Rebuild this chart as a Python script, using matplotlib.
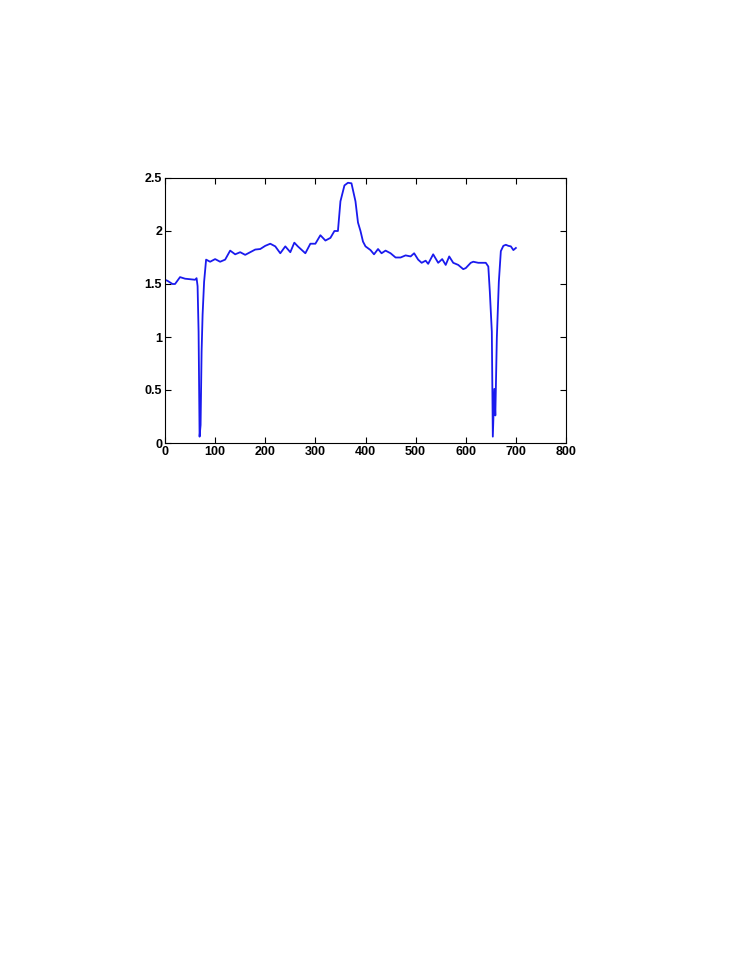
import matplotlib
matplotlib.use("Agg")
import matplotlib.pyplot as plt

# profile values
x = [0, 5, 15, 20, 30, 40, 50, 60, 63, 65, 67, 69, 71, 73, 75, 78, 82, 90, 100,
     110, 120, 130, 140, 150, 160, 170, 180, 190, 200, 210, 220, 230, 240, 250,
     258, 265, 280, 290, 300, 310, 320, 330, 338, 345, 350, 358, 365, 372, 380,
     385, 390, 395, 400, 410, 417, 425, 432, 440, 450, 460, 470, 480, 490, 497,
     505, 512, 520, 525, 535, 545, 553, 560, 567, 575, 585, 595, 600, 610, 615,
     625, 635, 640, 645, 648, 652, 654, 657, 659, 662, 666, 670, 675, 680, 685,
     690, 695, 700]
y = [1.54, 1.53, 1.50, 1.50, 1.565, 1.55, 1.545, 1.54, 1.555, 1.48, 1.05, 0.06,
     0.17, 0.86, 1.21, 1.52, 1.73, 1.71, 1.735, 1.71, 1.73, 1.815, 1.78, 1.80,
     1.775, 1.80, 1.825, 1.83, 1.86, 1.88, 1.855, 1.79, 1.855, 1.80, 1.89,
     1.855, 1.79, 1.88, 1.88, 1.96, 1.91, 1.935, 2.00, 2.00, 2.28, 2.43, 2.455,
     2.45, 2.28, 2.08, 2.00, 1.90, 1.855, 1.82, 1.78, 1.83, 1.79, 1.815, 1.79,
     1.75, 1.75, 1.77, 1.76, 1.79, 1.73, 1.70, 1.72, 1.69, 1.78, 1.70, 1.735,
     1.68, 1.76, 1.70, 1.68, 1.64, 1.65, 1.70, 1.71, 1.70, 1.70, 1.70, 1.665,
     1.43, 1.05, 0.06, 0.51, 0.26, 0.99, 1.52, 1.81, 1.86, 1.87, 1.86, 1.855,
     1.82, 1.84]

xticks = [0, 100, 200, 300, 400, 500, 600, 700, 800]
yticks = [0, 0.5, 1, 1.5, 2, 2.5]

fig = plt.figure(figsize=(7.41, 9.6), dpi=100)
ax = fig.add_axes([165 / 741, 1 - 443 / 960, 401 / 741, 265 / 960])

ax.plot(x, y, color="#1a1aee", linewidth=1.3)

ax.set_xlim(0, 800)
ax.set_ylim(0, 2.5)
ax.set_xticks(xticks)
ax.set_yticks(yticks)
ax.set_xticklabels([str(t) for t in xticks])
ax.set_yticklabels(["0", "0.5", "1", "1.5", "2", "2.5"])
ax.tick_params(direction="in", top=True, right=True, length=4, width=0.8,
               labelsize=9, pad=2)
for lbl in ax.get_xticklabels() + ax.get_yticklabels():
    lbl.set_fontweight("bold")
    lbl.set_family("Liberation Sans")
for s in ax.spines.values():
    s.set_linewidth(0.8)

fig.savefig("out.png", dpi=100)
